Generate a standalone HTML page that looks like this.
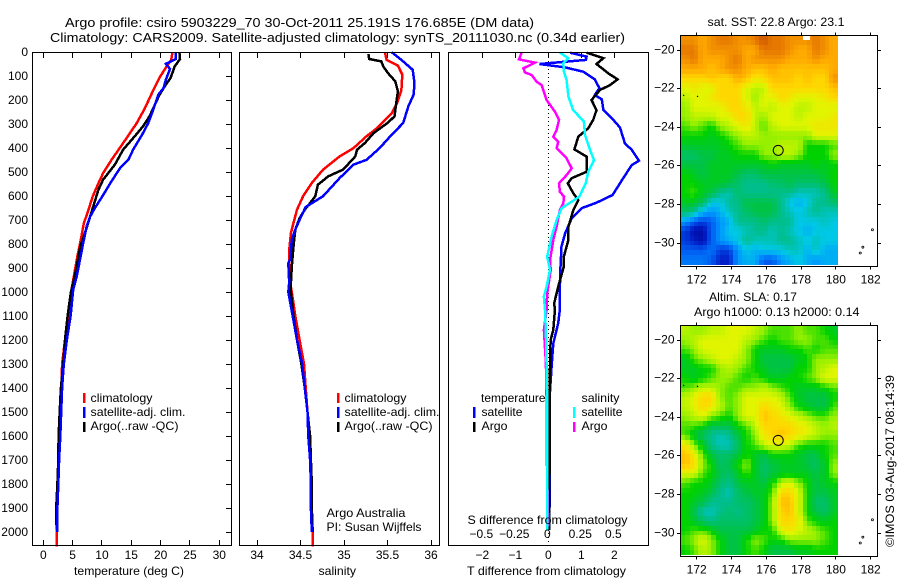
<!DOCTYPE html>
<html><head><meta charset="utf-8"><title>Argo profile</title>
<style>
html,body{margin:0;padding:0;background:#fff}
svg{display:block;font-family:"Liberation Sans",sans-serif;font-size:12px;fill:#000}
text{stroke:none}
.f{fill:none;stroke:#000;stroke-width:1;shape-rendering:crispEdges}
</style></head>
<body>
<svg id="fig" xmlns="http://www.w3.org/2000/svg" width="900" height="580" viewBox="0 0 900 580">
<rect x="0" y="0" width="900" height="580" fill="#fff"/>
<g id="maps"></g>
<g id="marks"></g>
<g id="ticks"></g>
<rect class="f" x="32.5" y="52.5" width="199" height="493"/>
<rect class="f" x="239.5" y="52.5" width="200" height="493"/>
<rect class="f" x="448.5" y="52.5" width="200" height="493"/>
<rect class="f" x="680.5" y="35.5" width="197" height="231"/>
<rect class="f" x="680.5" y="325.5" width="197" height="231"/>

<text x="65" y="27" font-size="13" textLength="469" lengthAdjust="spacingAndGlyphs">Argo profile: csiro 5903229_70 30-Oct-2011 25.191S 176.685E (DM data)</text>
<text x="50" y="42" font-size="13" textLength="575" lengthAdjust="spacingAndGlyphs">Climatology: CARS2009. Satellite-adjusted climatology: synTS_20111030.nc (0.34d earlier)</text>

<text x="74" y="575" textLength="110" lengthAdjust="spacingAndGlyphs">temperature (deg C)</text>
<text x="318.5" y="575" textLength="37.5" lengthAdjust="spacingAndGlyphs">salinity</text>
<text x="467" y="575" textLength="159" lengthAdjust="spacingAndGlyphs">T difference from climatology</text>
<text x="467.5" y="524" textLength="160" lengthAdjust="spacingAndGlyphs">S difference from climatology</text>

<g>
<rect x="83" y="393" width="2.5" height="10" fill="#f00"/>
<rect x="83" y="407" width="2.5" height="11" fill="#00f"/>
<rect x="83" y="422" width="2.5" height="10" fill="#000"/>
<text x="90.5" y="402" textLength="62" lengthAdjust="spacingAndGlyphs">climatology</text>
<text x="90.5" y="416" textLength="95" lengthAdjust="spacingAndGlyphs">satellite-adj. clim.</text>
<text x="90.5" y="430" textLength="88" lengthAdjust="spacingAndGlyphs">Argo(..raw -QC)</text>
</g>
<g>
<rect x="337" y="393" width="2.5" height="10" fill="#f00"/>
<rect x="337" y="407" width="2.5" height="11" fill="#00f"/>
<rect x="337" y="422" width="2.5" height="10" fill="#000"/>
<text x="344.5" y="402" textLength="62" lengthAdjust="spacingAndGlyphs">climatology</text>
<text x="344.5" y="416" textLength="95" lengthAdjust="spacingAndGlyphs">satellite-adj. clim.</text>
<text x="344.5" y="430" textLength="88" lengthAdjust="spacingAndGlyphs">Argo(..raw -QC)</text>
</g>
<text x="326.5" y="517" textLength="79" lengthAdjust="spacingAndGlyphs">Argo Australia</text>
<text x="326.5" y="531" textLength="95" lengthAdjust="spacingAndGlyphs">PI: Susan Wijffels</text>

<g>
<rect x="473" y="407" width="2.5" height="11" fill="#00f"/>
<rect x="473" y="422" width="2.5" height="10" fill="#000"/>
<rect x="573" y="407" width="2.5" height="11" fill="#0ff"/>
<rect x="573" y="422" width="2.5" height="10" fill="#f0f"/>
<text x="481" y="402" textLength="64.5" lengthAdjust="spacingAndGlyphs">temperature</text>
<text x="481.5" y="416" textLength="41" lengthAdjust="spacingAndGlyphs">satellite</text>
<text x="481.5" y="430" textLength="26" lengthAdjust="spacingAndGlyphs">Argo</text>
<text x="581.5" y="402" textLength="38" lengthAdjust="spacingAndGlyphs">salinity</text>
<text x="581.5" y="416" textLength="41" lengthAdjust="spacingAndGlyphs">satellite</text>
<text x="581.5" y="430" textLength="26" lengthAdjust="spacingAndGlyphs">Argo</text>
</g>

<text x="707.5" y="26" textLength="137" lengthAdjust="spacingAndGlyphs">sat. SST: 22.8 Argo: 23.1</text>
<text x="709" y="301" textLength="88" lengthAdjust="spacingAndGlyphs">Altim. SLA: 0.17</text>
<text x="694" y="316" textLength="165.5" lengthAdjust="spacingAndGlyphs">Argo h1000: 0.13 h2000: 0.14</text>
<text transform="translate(894,547) rotate(-90)" textLength="172" lengthAdjust="spacingAndGlyphs">©IMOS 03-Aug-2017 08:14:39</text>
</svg>
<script>
// ---------- profile data (depth in dbar) ----------
var tClimDepth=[3,33,61,103,151,235,297,380,450,505,547,603,658,714,783,853,936,1005,1100,1200,1300,1400,1500,1600,1700,1800,1900,2000,2060];
var tClim=[22.0,21.8,21.0,19.9,18.9,17.3,15.9,13.6,11.6,10.2,9.4,8.4,7.7,6.9,6.4,5.8,5.2,4.7,4.3,3.7,3.2,3.1,2.9,2.8,2.6,2.5,2.3,2.27,2.27];
var tSatDepth=[1,29,49,71,115,150,178,240,296,338,407,449,483,539,608,650,685,726,796,865,935,990,1100,1200,1300,1400,1500,1600,1700,1800,1900,2000];
var tSat=[22.6,22.6,20.9,21.6,20.9,20.5,19.6,18.75,17.9,17.0,15.3,14.5,13.1,11.6,9.9,8.8,8.0,7.4,6.8,6.25,5.7,5.1,4.65,4.0,3.5,3.2,3.05,2.9,2.7,2.55,2.4,2.4];
var tArgoDepth=[1,29,60,108,136,178,226,268,310,351,407,469,532,574,629,685,740,810,893,963,1000,1100,1200,1300,1400,1500,1600,1700,1800,1900,1990];
var tArgo=[23.2,23.3,22.4,21.7,20.9,19.8,18.9,18.1,17,15.6,13.6,12.2,10.2,9.4,8.7,8,7.3,6.3,5.7,5.1,4.7,4.15,3.7,3.4,3.0,2.8,2.6,2.55,2.4,2.2,2.27];

var sClimDepth=[1,33,57,94,158,213,254,317,351,400,435,490,546,601,657,712,754,825,893,963,1000,1100,1200,1300,1400,1500,1600,1700,1800,1900,2000,2060];
var sClim=[35.47,35.49,35.62,35.67,35.66,35.61,35.55,35.38,35.26,35.11,34.95,34.76,34.63,34.53,34.46,34.42,34.39,34.37,34.37,34.38,34.40,34.44,34.49,34.54,34.56,34.58,34.60,34.62,34.63,34.63,34.64,34.64];
var sSatDepth=[1,33,74,129,178,226,296,344,400,449,469,525,601,646,699,740,782,865,879,960,1000,1100,1200,1300,1400,1500,1600,1700,1800,1900,2000];
var sSat=[35.55,35.66,35.79,35.81,35.80,35.74,35.68,35.55,35.41,35.26,35.11,34.95,34.76,34.56,34.49,34.44,34.40,34.38,34.36,34.37,34.36,34.41,34.46,34.52,34.55,34.58,34.59,34.61,34.62,34.62,34.63];
var sArgoDepth=[8,29,39,60,90,122,164,213,268,293,338,379,407,435,490,518,553,601,629,657,692,740,810,893,963,1000,1100,1200,1300,1400,1500,1600,1700,1800,1900,2000];
var sArgo=[35.28,35.29,35.43,35.45,35.51,35.59,35.62,35.60,35.58,35.51,35.34,35.24,35.15,35.13,34.99,34.82,34.70,34.67,34.61,34.55,34.49,34.44,34.42,34.40,34.39,34.39,34.42,34.46,34.51,34.55,34.58,34.61,34.62,34.63,34.63,34.64];

var dtSatDepth=[3,19,33,50,64,82,114,151,179,197,242,283,314,381,408,453,471,526,596,628,651,693,756,811,894,992,1075,1130,1214,1311,1422,1728,1992];
var dtSat=[0.66,1.16,1.14,-0.27,0.51,1.06,1.41,1.55,1.41,1.62,1.67,1.97,2.17,2.32,2.53,2.75,2.53,2.27,1.95,1.46,1.01,0.71,0.51,0.40,0.37,0.35,0.35,0.30,0.15,0.10,0.05,0.05,0.03];
var dtArgoDepth=[3,26,50,89,114,138,158,200,242,283,318,353,406,436,499,526,547,589,617,658,728,783,853,894,978,1047,1075,1158,1200,1339,1992];
var dtArgo=[1.16,1.67,1.46,1.82,2.10,1.87,1.57,1.31,1.46,1.36,1.21,0.91,0.79,1.16,1.16,0.71,0.59,0.76,0.91,0.76,0.61,0.61,0.47,0.47,0.30,0.18,0.20,0.15,0.07,0.05,0.03];
var dsSatDepth=[3,26,47,82,117,186,242,290,346,408,450,499,547,603,651,700,769,853,908,978,1019,1075,1172,1311,1450,1992];
var dsSat=[0.088,0.152,0.114,0.119,0.139,0.152,0.189,0.270,0.278,0.316,0.346,0.303,0.283,0.235,0.101,0.063,0.025,-0.008,0.013,-0.013,-0.033,-0.025,-0.018,-0.013,-0.008,-0.008];
var dsArgoDepth=[3,31,44,68,85,96,124,138,200,249,283,325,353,374,401,443,485,513,547,582,603,631,658,728,783,867,908,1006,1075,1158,1297,1450,1644,1978];
var dsArgo=[-0.202,-0.222,-0.101,-0.189,-0.177,-0.126,-0.088,-0.051,-0.013,0.051,0.081,0.063,0.038,0.076,0.063,0.139,0.177,0.139,0.081,0.088,0.119,0.114,0.088,0.063,0.038,0.013,0.018,-0.008,-0.013,-0.033,-0.018,-0.013,-0.013,0];

// ---------- tick labels ----------
var depthTicks=[0,100,200,300,400,500,600,700,800,900,1000,1100,1200,1300,1400,1500,1600,1700,1800,1900,2000];
var tempTicks=[0,5,10,15,20,25,30];
var salTicks=[34,34.5,35,35.5,36];
var tDiffTicks=[-2,-1,0,1,2];
var sDiffTicks=[-0.5,-0.25,0,0.25,0.5];
var lonTicks=[172,174,176,178,180,182];
var latTicks=[-20,-22,-24,-26,-28,-30];
var floatLon=176.685;
var floatLat=-25.191;
var islandLon=[171.25,172.05,182.1,181.55,181.4];
var islandLat=[-22.35,-22.4,-29.3,-30.2,-30.5];

// ---------- map grids: colour-scale level per cell, north to south ----------
var sstLevels=[
[11.5,11.5,11,11.5,12,12,11.5,11.5,12,13,12,12,11.5,11.5,11.5,12,11.5,11],
[12,12,11,11.5,11.5,11.5,11.5,11,11,12,12,12,11.5,11,11,12,11.5,11],
[11.5,12,11,11,11,11.5,12,11,11.5,11.5,11.5,11.5,11,11,11,11.5,11,11],
[11,11,11,10.5,11,11.5,11.5,11,10.5,10.5,11,10.5,10.5,10.5,10.5,10.5,10.5,11],
[10,10,10,10.5,10,10,11,10.5,9.5,10,10.5,10.5,10.5,10,10.5,10,10,11.5],
[9,9.5,9,9,10,10,10,9,8.5,8.5,10,10,10,10,10,10,10,10.5],
[8.5,9,9,9.5,10,10,10,9,8,9,9,10,9.5,9,9,9,9.5,10],
[8,9,9,9,9,10,10,9.5,8.5,9,8.5,9,9,8.5,8.5,9,9,9],
[8,8.5,8.5,8.5,9,9,10,10,8.5,8,9,9,9,8.5,9,9,9,9.5],
[7.5,8,7.5,7,8,8.5,9,9.5,8.5,7.5,8.5,9,9,9,9,9.5,9.5,9.5],
[7,7,7,6.5,7,7.5,8,8.5,8.5,8,8,8,8,8,8,9,9,9],
[6.5,6.5,6.5,6.5,6.5,7,7.5,8,8,8,8,8.5,8.5,8.5,7,7,7,7.5],
[5.5,5.5,6,6,6.5,6.5,7,7,7,8,8,8.5,8.5,8,7,7,7,8],
[6,6,6,6.5,6.5,6.5,6.5,6.5,6.5,6.5,7,6.5,6.5,6.5,6.5,7,6.5,7],
[7,6.5,6,6.5,6.5,6.5,6,5.5,5.5,6,6,6,6,6,6,6,6.5,7],
[7,7,6.5,6.5,6.5,6,5.5,5,5,5,5.5,5.5,6,5.5,5.5,5.5,6,7],
[7,7.5,6.5,6,5,4.5,5.5,5,5,5,5,5,5,4.5,4.5,4.5,5,6.5],
[6.5,6.5,5.5,4,4,5,5,6,6,6,6,5,4,3.5,4,5,5,5.5],
[5.5,5,3.5,3,3.5,4.5,5,5.5,6,6,6,5,4.5,4,4.5,5,4.5,4.5],
[3,2,1.5,2,3,3.5,5,5,5,5.5,5,5,5,4,4,4,4.5,4],
[1.5,0.5,0.5,2,3,4,4,4.5,5,5,4.5,5,4.5,4,3.5,4,4,4],
[1.5,1,0.5,2,3,3.5,4,5,4.5,4.5,4.5,5,5,4.5,4,4.5,4,4],
[2,2,2,2.5,1.5,1.5,3,4,3.5,4,4,4,4.5,4.5,3.5,4.5,3.5,3.5],
[2.5,2.5,2.5,2,1,1,3,3.5,3.5,2,2,3,3.5,4,3.5,3,3.5,3.5]
];
var slaLevels=[
[8.5,8,8,8.5,8.5,9,9,9,8.5,8,7.5,7.5,7.5,8,7.5,7.5,7,6.5],
[8,8.5,9,9,9,9,9,8.5,8,7.5,7,7.5,7.5,8,8,7.5,7.5,7],
[7.5,8,9,9,9,9,9,8,7,6.5,6.5,6.5,7,7,7.5,7,7.5,7.5],
[6.5,7.5,8,8.5,9,9,8.5,8,7,6,6,6,6,6.5,7,8,8,8],
[6.5,6.5,7,7,8,8.5,8,7.5,7,6.5,6,6,6,7,7,8,8.5,9],
[7,6.5,7,7.5,8,8,7.5,7,7.5,7,6.5,6.5,7,7,7.5,8,9,9],
[7.5,8,8.5,8.5,8,7.5,7.5,8,8,8.5,8,7.5,7,6.5,6.5,6.5,7,7.5],
[8.5,9,10,10,8,7.5,8,9,9,9,9,8.5,7.5,6.5,6,6,6,7],
[8.5,9,10,9.5,8.5,7.5,8,9,9,10,9.5,9,8,7,6.5,6,6,7.5],
[8,8.5,9,8,7.5,7,8,9,9,10.5,10,9.5,9,8.5,8,7.5,7.5,8],
[7.5,7.5,7,6,6,6,7,7.5,8.5,10,10,10,10,9.5,9,8.5,8,8.5],
[7.5,6.5,5.5,5,4.5,5,6,7,8,9.5,10,10.5,10,9.5,9,8.5,8,8],
[9.5,8,6.5,5,4.5,4.5,5.5,7,7.5,8.5,9,9,8.5,7.5,7,7,7,7.5],
[10.5,9.5,7.5,6,5.5,5.5,6,7,6.5,6,7,7,7,6.5,6,6,7,7.5],
[10.5,10,8,7,5.5,6,7,8,6.5,5.5,6,6.5,6.5,6.5,6,5.5,6.5,8],
[9,9,7.5,7,6,5.5,6.5,7.5,6.5,5.5,6,6.5,6.5,6.5,6.5,6,6.5,8],
[7.5,7,7,6.5,5.5,5,6,6.5,6.5,6,7,8.5,9,8,7,6,6.5,7],
[7,7,6.5,6,5,4.5,5.5,6,6.5,6.5,7.5,10,10,9,7,6,6,6.5],
[7,6.5,6,5,5,5,5.5,5.5,6,6.5,8,10.5,10.5,9,7,5.5,5.5,6.5],
[7,6,4.5,4.5,5,5.5,5,5.5,6,6.5,8,10,10.5,9,7,6,5.5,6.5],
[7,6.5,5.5,5,5.5,5.5,5.5,5.5,6,6.5,8,10,10,9.5,7.5,7,6.5,7],
[7,7.5,7.5,7,6,6,6,6,6.5,7,7,9,9.5,9,8.5,8,7.5,7],
[7.5,8,9,8,7,6,6,7,8,7.5,7,7,8,8,8,8,7.5,7],
[7,7.5,8.5,8,7,6,6,7,7.5,7,6,6,6,6.5,6.5,7,7,7]
];

// ---------- axis functions ----------
function depthY(d){return 52+d*0.24;}
function tempX(t){return 43.3+t*5.867;}
function salX(s){return 257+(s-34)*87;}
function tDiffX(v){return 548.3+v*33;}
function sDiffX(v){return 548.3+v*132;}
function lonX(l){return 696.7+(l-172)*17.4;}
function latY(l,top){return top+(-20-l)*19.33;}

var NS='http://www.w3.org/2000/svg';
function mk(tag,parent){var e=document.createElementNS(NS,tag);parent.appendChild(e);return e;}
var marks=document.getElementById('marks');
var ticks=document.getElementById('ticks');
var maps=document.getElementById('maps');

function drawLine(name,depths,values,xf,color,w){
  var pts=[];
  for(var i=0;i<values.length;i++){pts.push(xf(values[i]).toFixed(1)+','+depthY(depths[i]).toFixed(1));}
  var el=mk('polyline',marks);
  
  
  el.setAttribute('points',pts.join(' '));
  el.setAttribute('fill','none');
  el.setAttribute('stroke',color);
  el.setAttribute('stroke-width',w||2.5);
  el.setAttribute('shape-rendering','crispEdges');
}
function tick(x1,y1,x2,y2){
  var el=mk('line',ticks);
  
  
  el.setAttribute('x1',x1);el.setAttribute('y1',y1);el.setAttribute('x2',x2);el.setAttribute('y2',y2);
  el.setAttribute('stroke','#000');
  el.setAttribute('shape-rendering','crispEdges');
}
function label(str,x,y,anchor){
  var el=mk('text',ticks);
  
  
  el.setAttribute('x',x);el.setAttribute('y',y);
  el.setAttribute('text-anchor',anchor||'middle');
  el.textContent=String(str).replace('-','\u2212');
}

// zero reference in the difference panel
var zero=mk('line',marks);


zero.setAttribute('x1',tDiffX(0));zero.setAttribute('x2',tDiffX(0));
zero.setAttribute('y1',53);zero.setAttribute('y2',545);
zero.setAttribute('stroke','#000');zero.setAttribute('stroke-dasharray','1 3');
zero.setAttribute('shape-rendering','crispEdges');

drawLine('temperature-climatology-line',tClimDepth,tClim,tempX,'#f00');
drawLine('temperature-argo-line',tArgoDepth,tArgo,tempX,'#000');
drawLine('temperature-satellite-line',tSatDepth,tSat,tempX,'#00f');
drawLine('salinity-climatology-line',sClimDepth,sClim,salX,'#f00');
drawLine('salinity-argo-line',sArgoDepth,sArgo,salX,'#000');
drawLine('salinity-satellite-line',sSatDepth,sSat,salX,'#00f');
drawLine('t-difference-satellite-line',dtSatDepth,dtSat,tDiffX,'#00f');
drawLine('t-difference-argo-line',dtArgoDepth,dtArgo,tDiffX,'#000');
drawLine('s-difference-argo-line',dsArgoDepth,dsArgo,sDiffX,'#f0f');
drawLine('s-difference-satellite-line',dsSatDepth,dsSat,sDiffX,'#0ff');

// profile-panel ticks
depthTicks.forEach(function(d){
  var y=Math.floor(depthY(d))+0.5;
  label(d,28,y+3.5,'end');
  if(d>0){tick(226,y,231,y);}
});
tempTicks.forEach(function(t){
  var x=Math.floor(tempX(t))+0.5;
  tick(x,53,x,58);tick(x,540,x,545);
  label(t,tempX(t),559);
});
salTicks.forEach(function(s){
  var x=Math.floor(salX(s))+0.5;
  tick(x,53,x,58);tick(x,540,x,545);
  label(s,salX(s),559);
});
tDiffTicks.forEach(function(v){
  var x=Math.floor(tDiffX(v))+0.5;
  tick(x,53,x,58);
  label(v,tDiffX(v),559);
});
sDiffTicks.forEach(function(v){
  label(v,sDiffX(v)-1,538);
});

// colour scale: level 0 (dark blue) to 13 (deep orange)
var scaleStops=[[0,0,140],[0,30,200],[0,90,240],[0,150,255],[0,200,230],[0,190,140],[0,195,70],[0,210,0],[150,240,0],[225,245,0],[255,215,0],[255,170,0],[230,120,0],[205,85,0]];
function levelColor(v){
  var a=Math.max(0,Math.min(scaleStops.length-1,v));
  var i=Math.min(scaleStops.length-2,Math.floor(a));
  var f=a-i,c=[];
  for(var k=0;k<3;k++){c.push(Math.round(scaleStops[i][k]+(scaleStops[i+1][k]-scaleStops[i][k])*f));}
  return 'rgb('+c.join(',')+')';
}
// shade each grid box in two-by-two sub-boxes, blended between neighbouring grid values
function sampleGrid(grid,r,c){
  var rr=Math.max(0,Math.min(grid.length-1.001,r));
  var cc=Math.max(0,Math.min(grid[0].length-1.001,c));
  var r0=Math.floor(rr),c0=Math.floor(cc),fr=rr-r0,fc=cc-c0;
  return (grid[r0][c0]*(1-fc)+grid[r0][c0+1]*fc)*(1-fr)+(grid[r0+1][c0]*(1-fc)+grid[r0+1][c0+1]*fc)*fr;
}

function drawMap(name,grid,top,frameTop){
  var sub=2;
  var rows=grid.length*sub,cols=grid[0].length*sub;
  var lat0=-19.25,lon0=171.1,dLon=9/cols,dLat=11.85/rows;
  for(var j=0;j<rows;j++){
    for(var i=0;i<cols;i++){
      var v=sampleGrid(grid,(j+0.5)/sub-0.5,(i+0.5)/sub-0.5);
      var x1=Math.round(lonX(lon0+i*dLon)),x2=Math.round(lonX(lon0+(i+1)*dLon));
      var y1=Math.round(latY(lat0-j*dLat,top)),y2=Math.round(latY(lat0-(j+1)*dLat,top));
      var c=mk('rect',maps);
      
      
      c.setAttribute('x',x1);c.setAttribute('y',y1);
      c.setAttribute('width',x2-x1);c.setAttribute('height',y2-y1);
      c.setAttribute('fill',levelColor(v));
      c.setAttribute('shape-rendering','crispEdges');
    }
  }
  islandLon.forEach(function(l,i){
    var d=mk('circle',maps);
    
    
    d.setAttribute('cx',lonX(l));d.setAttribute('cy',latY(islandLat[i],top));
    d.setAttribute('r',i<2?0.5:1);
    d.setAttribute('fill',i<2?'#000':'none');
    d.setAttribute('stroke','#000');d.setAttribute('stroke-width',i<2?0.5:0.8);
  });
  var m=mk('circle',maps);
  
  
  m.setAttribute('cx',lonX(floatLon));m.setAttribute('cy',latY(floatLat,top));
  m.setAttribute('r',5);m.setAttribute('fill','none');m.setAttribute('stroke','#000');m.setAttribute('stroke-width',1);
  var bottom=frameTop+231;
  lonTicks.forEach(function(l){
    var x=Math.floor(lonX(l))+0.5;
    tick(x,frameTop-3,x,frameTop);tick(x,bottom,x,bottom+3);
    label(l,lonX(l),bottom+17);
  });
  latTicks.forEach(function(l){
    var y=Math.floor(latY(l,top))+0.5;
    tick(677,y,680,y);tick(878,y,881,y);
    label(l,674.5,y+3,'end');
  });
}
drawMap('sst-map',sstLevels,50,35.5);
drawMap('sla-map',slaLevels,340,325.5);

var gap=mk('rect',maps);


gap.setAttribute('x',803);gap.setAttribute('y',35);gap.setAttribute('width',7);gap.setAttribute('height',5);gap.setAttribute('fill','#fff');
</script>
</body></html>
